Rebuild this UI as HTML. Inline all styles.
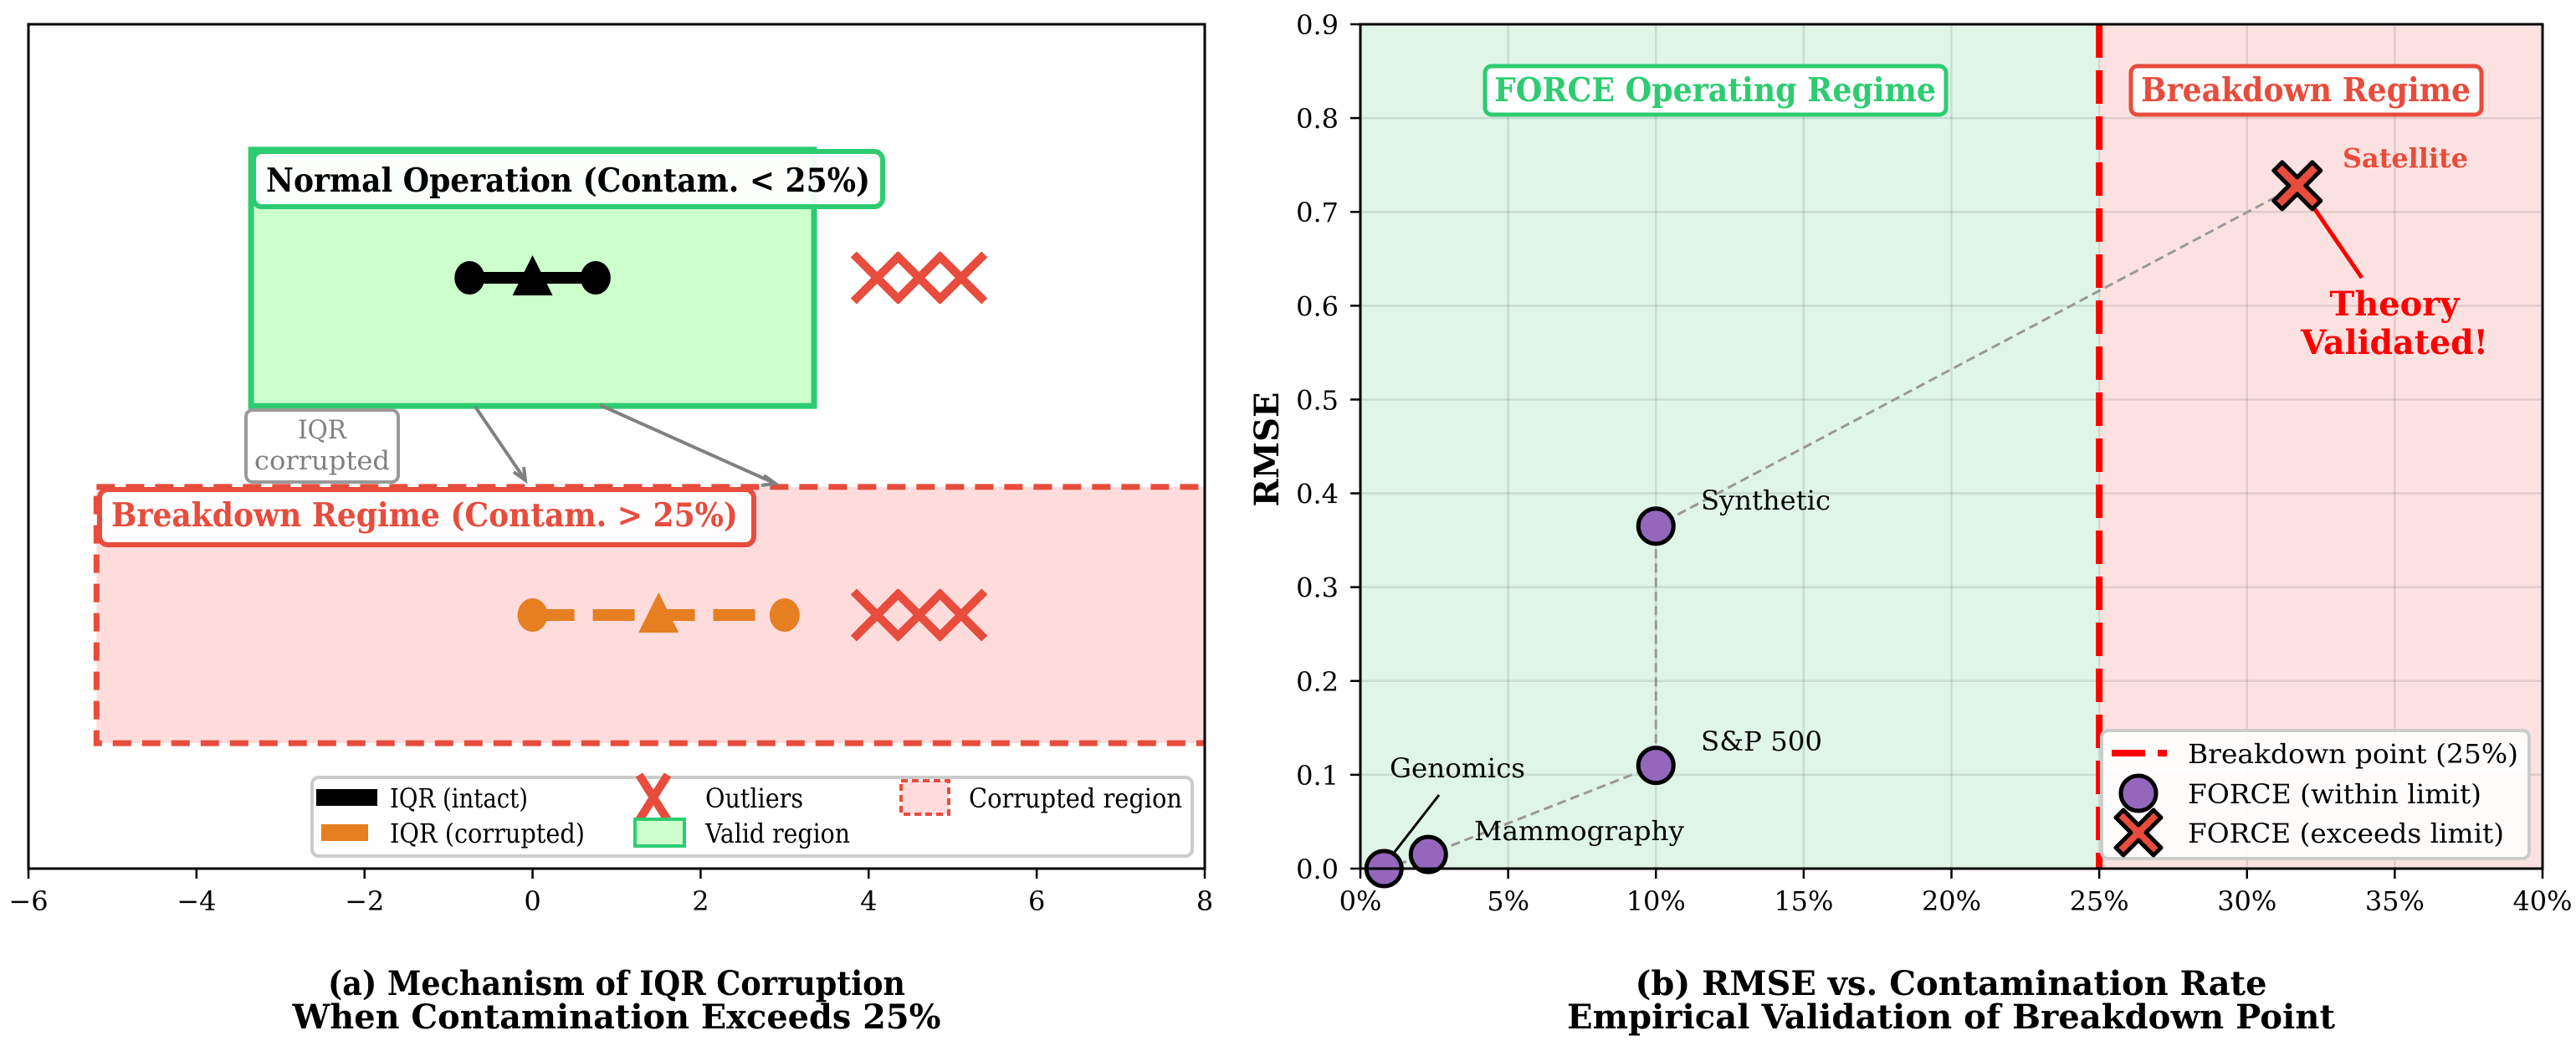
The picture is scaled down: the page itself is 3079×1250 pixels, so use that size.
<!DOCTYPE html>
<html><head><meta charset="utf-8">
<style>
html,body{margin:0;padding:0;background:#fff;}
svg{display:block;}
text{font-family:"DejaVu Serif","Liberation Serif",serif;}
</style></head>
<body>
<svg id="fig" width="3079" height="1250" viewBox="0 0 3079 1250" xmlns="http://www.w3.org/2000/svg">
<rect width="3079" height="1250" fill="#fff"/>
<g id="left"></g>
<g id="right"></g>
</svg>
<script>
// ---------- Panel (a) data ----------
const aXTicks = [-6,-4,-2,0,2,4,6,8];
const aIntact = [-0.75, 0, 0.75];      // q1, median, q3
const aCorrupt = [0, 1.5, 3];          // q1, median, q3
const aOutliers = [4.1, 4.6, 5.1];
const aRowY = [2, 1];                  // intact row, corrupted row

// ---------- Panel (b) data ----------
const bNames = ["Genomics","Mammography","S&P 500","Synthetic","Satellite"];
const bRate = [0.008, 0.023, 0.10, 0.10, 0.317];
const bRmse = [0.0, 0.015, 0.11, 0.365, 0.728];
const bXTicks = [0,0.05,0.10,0.15,0.20,0.25,0.30,0.35,0.40];
const bXLabels = ["0%","5%","10%","15%","20%","25%","30%","35%","40%"];
const bYTicks = [0,0.1,0.2,0.3,0.4,0.5,0.6,0.7,0.8,0.9];
const bBreak = 0.25;

const NS = "http://www.w3.org/2000/svg";
function el(tag, attrs, parent, txt){
  const e = document.createElementNS(NS, tag);
  for (const k in attrs) e.setAttribute(k, attrs[k]);
  if (txt !== undefined) e.textContent = txt;
  parent.appendChild(e);
  return e;
}

// ===== Panel A =====
const L = document.getElementById('left');
const aL=34, aR=1440, aT=29, aB=1038;
const ax = v => aL + (v - (-6)) * (aR - aL) / 14;
const ay = v => 735 - (v - 1) * 403;

let e = el('rect',{x:ax(-3.35),y:ay(2.38),width:ax(3.35)-ax(-3.35),height:ay(1.62)-ay(2.38),fill:'#ccffcc',stroke:'#2ecc71','stroke-width':7},L);


const cp = el('clipPath',{id:'clipA'},L);
el('rect',{x:aL,y:aT,width:aR-aL,height:aB-aT},cp);
e = el('rect',{x:ax(-5.19),y:ay(1.38),width:ax(9)-ax(-5.19),height:ay(0.62)-ay(1.38),fill:'#ffdcdc',stroke:'#e74c3c','stroke-width':7,'stroke-dasharray':'22 13','clip-path':'url(#clipA)'},L);



const yI = ay(aRowY[0]);
e = el('line',{x1:ax(aIntact[0]),x2:ax(aIntact[2]),y1:yI,y2:yI,stroke:'#000','stroke-width':14},L);


[aIntact[0],aIntact[2]].forEach(v=>{
  const c = el('ellipse',{cx:ax(v),cy:yI,rx:18,ry:20,fill:'#000'},L);
  
  
});
e = el('polygon',{points:`${ax(aIntact[1])},${yI-27} ${ax(aIntact[1])-24},${yI+21} ${ax(aIntact[1])+24},${yI+21}`,fill:'#000'},L);



const yC = ay(aRowY[1]);
e = el('line',{x1:ax(aCorrupt[0]),x2:ax(aCorrupt[2]),y1:yC,y2:yC,stroke:'#e67e22','stroke-width':14,'stroke-dasharray':'50 22'},L);


[aCorrupt[0],aCorrupt[2]].forEach(v=>{
  const c = el('ellipse',{cx:ax(v),cy:yC,rx:18,ry:20,fill:'#e67e22'},L);
  
  
});
e = el('polygon',{points:`${ax(aCorrupt[1])},${yC-27} ${ax(aCorrupt[1])-24},${yC+21} ${ax(aCorrupt[1])+24},${yC+21}`,fill:'#e67e22'},L);



aRowY.forEach(r=>{
  aOutliers.forEach(v=>{
    const cx=ax(v), cy=ay(r);
    const g = el('path',{d:`M${cx-28},${cy-28}L${cx+28},${cy+28}M${cx+28},${cy-28}L${cx-28},${cy+28}`,stroke:'#e74c3c','stroke-width':10,fill:'none'},L);
    
    
  });
});

e = el('rect',{x:303,y:181,width:752,height:66,rx:10,fill:'#fff','fill-opacity':0.92,stroke:'#2ecc71','stroke-width':6},L);


e = el('text',{x:318,y:229,'font-size':39,'font-weight':'bold',fill:'#000',textLength:722,lengthAdjust:'spacingAndGlyphs'},L,'Normal Operation (Contam. < 25%)');


e = el('rect',{x:119,y:585,width:782,height:66,rx:10,fill:'#fff','fill-opacity':0.92,stroke:'#e74c3c','stroke-width':6},L);


e = el('text',{x:133,y:629,'font-size':39,'font-weight':'bold',fill:'#e74c3c',textLength:749,lengthAdjust:'spacingAndGlyphs'},L,'Breakdown Regime (Contam. > 25%)');



[[568,486,628,574],[717,484,927,578]].forEach(a=>{
  const l = el('line',{x1:a[0],y1:a[1],x2:a[2],y2:a[3],stroke:'#808080','stroke-width':4},L);
  
  
  const h = el('path',{d:`M${a[2]-14},${a[3]-10}L${a[2]},${a[3]}L${a[2]-(a[2]-a[0]>100?17:2)},${a[3]+ (a[2]-a[0]>100?2:-16)}`,fill:'none',stroke:'#808080','stroke-width':4},L);
  
  
});
e = el('rect',{x:294,y:490,width:182,height:86,rx:8,fill:'#fff',stroke:'#999','stroke-width':4},L);


e = el('text',{x:385,y:524,'font-size':31,fill:'#808080','text-anchor':'middle',textLength:58,lengthAdjust:'spacingAndGlyphs'},L,'IQR');


e = el('text',{x:385,y:561,'font-size':31,fill:'#808080','text-anchor':'middle',textLength:162,lengthAdjust:'spacingAndGlyphs'},L,'corrupted');



e = el('rect',{x:373,y:929,width:1052,height:94,rx:8,fill:'#fff','fill-opacity':0.9,stroke:'#ccc','stroke-width':4},L);


const leg=[
 ['h-black',378,953,466,'IQR (intact)',165],
 ['h-orange',378,995,466,'IQR (corrupted)',233],
 ['h-x',781,953,843,'Outliers',117],
 ['h-green',781,995,843,'Valid region',173],
 ['h-red',1105,953,1158,'Corrupted region',255]];
leg.forEach(r=>{
  const [k,hx,hy,tx,t,w]=r;
  let h;
  if(k==='h-black') h=el('rect',{x:378,y:hy-10,width:73,height:20,fill:'#000'},L);
  if(k==='h-orange') h=el('rect',{x:384,y:hy-10,width:56,height:20,fill:'#e67e22'},L);
  if(k==='h-x') h=el('path',{d:`M${hx-17},${hy-27}L${hx+17},${hy+27}M${hx+17},${hy-27}L${hx-17},${hy+27}`,stroke:'#e74c3c','stroke-width':10},L);
  if(k==='h-green') h=el('rect',{x:759,y:hy-16,width:59,height:32,fill:'#ccffcc',stroke:'#2ecc71','stroke-width':4},L);
  if(k==='h-red') h=el('rect',{x:1077,y:hy-20,width:57,height:40,fill:'#ffdcdc',stroke:'#e74c3c','stroke-width':4,'stroke-dasharray':'8 5'},L);
  
  
  const tt = el('text',{x:tx,y:hy+12,'font-size':32,fill:'#000',textLength:w,lengthAdjust:'spacingAndGlyphs'},L,t);
  
  
});

e = el('rect',{x:aL,y:aT,width:aR-aL,height:aB-aT,fill:'none',stroke:'#000','stroke-width':3},L);


aXTicks.forEach(v=>{
  el('line',{x1:ax(v),x2:ax(v),y1:aB,y2:aB+12,stroke:'#000','stroke-width':2.5},L);
  const t = el('text',{x:ax(v),y:1088,'font-size':32,'text-anchor':'middle'},L,(v<0?'\u2212'+Math.abs(v):String(v)));
  
  
});
e = el('text',{x:737,y:1189,'font-size':40,'font-weight':'bold','text-anchor':'middle',textLength:690,lengthAdjust:'spacingAndGlyphs'},L,'(a) Mechanism of IQR Corruption');


e = el('text',{x:737,y:1229,'font-size':40,'font-weight':'bold','text-anchor':'middle',textLength:775,lengthAdjust:'spacingAndGlyphs'},L,'When Contamination Exceeds 25%');



// ===== Panel B =====
const R = document.getElementById('right');
const bL=1626, bR=3039, bT=29, bB=1038;
const bx = v => bL + v/0.4*(bR-bL);
const by = v => bB - v/0.9*(bB-bT);

e = el('rect',{x:bL,y:bT,width:bx(bBreak)-bL,height:bB-bT,fill:'#dff5e8'},R);


e = el('rect',{x:bx(bBreak),y:bT,width:bR-bx(bBreak),height:bB-bT,fill:'#fbe2e0'},R);


bXTicks.forEach(v=>{ el('line',{x1:bx(v),x2:bx(v),y1:bT,y2:bB,stroke:'#000','stroke-opacity':0.1,'stroke-width':2.5},R); });
bYTicks.forEach(v=>{ el('line',{x1:bL,x2:bR,y1:by(v),y2:by(v),stroke:'#000','stroke-opacity':0.1,'stroke-width':2.5},R); });

e = el('line',{x1:bx(bBreak),x2:bx(bBreak),y1:bT,y2:bB,stroke:'#ff0000','stroke-width':8,'stroke-dasharray':'40 15'},R);



e = el('polyline',{points:bRate.map((r,i)=>bx(r)+','+by(bRmse[i])).join(' '),fill:'none',stroke:'#999','stroke-width':3,'stroke-dasharray':'11 6'},R);



e = el('rect',{x:1775,y:79,width:551,height:58,rx:8,fill:'#fff',stroke:'#2ecc71','stroke-width':5},R);


e = el('text',{x:2050,y:121,'font-size':39,'font-weight':'bold',fill:'#2ecc71','text-anchor':'middle',textLength:528,lengthAdjust:'spacingAndGlyphs'},R,'FORCE Operating Regime');


e = el('rect',{x:2547,y:79,width:419,height:58,rx:8,fill:'#fff',stroke:'#e74c3c','stroke-width':5},R);


e = el('text',{x:2756,y:121,'font-size':39,'font-weight':'bold',fill:'#e74c3c','text-anchor':'middle',textLength:394,lengthAdjust:'spacingAndGlyphs'},R,'Breakdown Regime');



e = el('line',{x1:1720,y1:950,x2:bx(bRate[0])+5,y2:by(bRmse[0])-10,stroke:'#000','stroke-width':3},R);


e = el('line',{x1:2823,y1:332,x2:bx(bRate[4])+10,y2:by(bRmse[4])+12,stroke:'#ff0000','stroke-width':5},R);



bNames.forEach((n,i)=>{
  const cx=bx(bRate[i]), cy=by(bRmse[i]);
  let m;
  if (bRate[i] < bBreak){
    m = el('circle',{cx:cx,cy:cy,r:21,fill:'#9467bd',stroke:'#000','stroke-width':5},R);
  } else {
    const s=28,w=10;
    m = el('path',{d:`M${cx-s},${cy-s+w}L${cx-s+w},${cy-s}L${cx},${cy-w}L${cx+s-w},${cy-s}L${cx+s},${cy-s+w}L${cx+w},${cy}L${cx+s},${cy+s-w}L${cx+s-w},${cy+s}L${cx},${cy+w}L${cx-s+w},${cy+s}L${cx-s},${cy+s-w}L${cx-w},${cy}Z`,fill:'#e74c3c',stroke:'#000','stroke-width':5,'stroke-linejoin':'round'},R);
  }
  
  
});
const lbl=[[1661,929,'Genomics',false,162],[1762,1004,'Mammography',false,251],[2033,897,'S&P 500',false,145],[2033,609,'Synthetic',false,155],[2800,200,'Satellite',true,150]];
lbl.forEach(l=>{
  const t = el('text',{x:l[0],y:l[1],'font-size':32,'font-weight':l[3]?'bold':'normal',fill:l[3]?'#e74c3c':'#000',textLength:l[4],lengthAdjust:'spacingAndGlyphs'},R,l[2]);
  
  
});
e = el('text',{x:2862,y:377,'font-size':40,'font-weight':'bold',fill:'#ff0000','text-anchor':'middle',textLength:155,lengthAdjust:'spacingAndGlyphs'},R,'Theory');


e = el('text',{x:2862,y:423,'font-size':40,'font-weight':'bold',fill:'#ff0000','text-anchor':'middle',textLength:224,lengthAdjust:'spacingAndGlyphs'},R,'Validated!');



e = el('rect',{x:2512,y:873,width:511,height:153,rx:8,fill:'#fff','fill-opacity':0.9,stroke:'#ccc','stroke-width':4},R);


el('line',{x1:2524,x2:2590,y1:900,y2:900,stroke:'#ff0000','stroke-width':8,'stroke-dasharray':'40 15'},R);
el('circle',{cx:2556,cy:948,r:21,fill:'#9467bd',stroke:'#000','stroke-width':5},R);
{const cx=2556,cy=995,s=27,w=9;
 el('path',{d:`M${cx-s},${cy-s+w}L${cx-s+w},${cy-s}L${cx},${cy-w}L${cx+s-w},${cy-s}L${cx+s},${cy-s+w}L${cx+w},${cy}L${cx+s},${cy+s-w}L${cx+s-w},${cy+s}L${cx},${cy+w}L${cx-s+w},${cy+s}L${cx-s},${cy+s-w}L${cx-w},${cy}Z`,fill:'#e74c3c',stroke:'#000','stroke-width':5,'stroke-linejoin':'round'},R);}
[['Breakdown point (25%)',912,395],['FORCE (within limit)',960,351],['FORCE (exceeds limit)',1007,378]].forEach(r=>{
  const t = el('text',{x:2615,y:r[1],'font-size':32,textLength:r[2],lengthAdjust:'spacingAndGlyphs'},R,r[0]);
  
  
});

e = el('rect',{x:bL,y:bT,width:bR-bL,height:bB-bT,fill:'none',stroke:'#000','stroke-width':3},R);


bXTicks.forEach((v,i)=>{
  el('line',{x1:bx(v),x2:bx(v),y1:bB,y2:bB+12,stroke:'#000','stroke-width':2.5},R);
  const t = el('text',{x:bx(v),y:1088,'font-size':32,'text-anchor':'middle'},R,bXLabels[i]);
  
  
});
bYTicks.forEach(v=>{
  el('line',{x1:bL-12,x2:bL,y1:by(v),y2:by(v),stroke:'#000','stroke-width':2.5},R);
  const t = el('text',{x:1600,y:by(v)+12,'font-size':32,'text-anchor':'end'},R,v.toFixed(1));
  
  
});
e = el('text',{x:0,y:0,'font-size':40,'font-weight':'bold','text-anchor':'middle',transform:'translate(1528,537) rotate(-90)'},R,'RMSE');


e = el('text',{x:2332,y:1189,'font-size':40,'font-weight':'bold','text-anchor':'middle',textLength:755,lengthAdjust:'spacingAndGlyphs'},R,'(b) RMSE vs. Contamination Rate');


e = el('text',{x:2332,y:1229,'font-size':40,'font-weight':'bold','text-anchor':'middle',textLength:918,lengthAdjust:'spacingAndGlyphs'},R,'Empirical Validation of Breakdown Point');


</script>
</body></html>
